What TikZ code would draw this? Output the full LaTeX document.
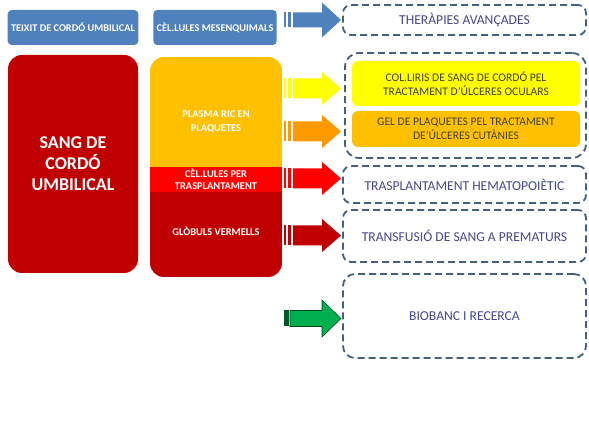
\documentclass[tikz,border=0pt]{standalone}
\usepackage{fontspec}
\setmainfont{Carlito}
\usetikzlibrary{positioning}
\definecolor{officeblue}{RGB}{79,129,189}
\definecolor{darkred}{RGB}{192,0,0}
\definecolor{plasma}{RGB}{255,192,0}
\definecolor{brightred}{RGB}{255,0,0}
\definecolor{lemon}{RGB}{255,255,0}
\definecolor{orangearrow}{RGB}{255,153,0}
\definecolor{greenarrow}{RGB}{0,176,80}
\definecolor{dashcol}{RGB}{68,96,126}
\definecolor{usetext}{RGB}{72,72,140}

\tikzset{
  bluebox/.style={fill=officeblue, rounded corners=4pt, text=white, font=\fontsize{10.3}{12}\selectfont\bfseries, align=center},
  dashbox/.style={draw=dashcol, line width=1.8pt, dash pattern=on 7pt off 4pt, rounded corners=8pt,
    text=usetext, font=\fontsize{13.6}{16}\selectfont, align=center},
  innerbox/.style={rounded corners=6pt, text=black!75, font=\fontsize{11.6}{13.5}\selectfont, align=center},
  celltext/.style={text=white, font=\fontsize{10.4}{14}\selectfont\bfseries, align=center}
}

\begin{document}
\begin{tikzpicture}[x=1pt,y=-1pt]
\useasboundingbox[fill=white] (0,0) rectangle (589,435);

% top row
\node[bluebox, minimum width=130pt, minimum height=35pt] (teixit) at (73,27.5) {TEIXIT DE CORDÓ UMBILICAL};
\node[bluebox, minimum width=120pt, minimum height=35pt] (mesenq) at (215,27.5) {CÈL.LULES MESENQUIMALS};

% sang de cordo
\node[fill=darkred, rounded corners=14pt, minimum width=130pt, minimum height=218pt, text=white,
  font=\fontsize{18}{21}\selectfont\bfseries, align=center] (sang) at (73,164) {SANG DE\\CORDÓ\\UMBILICAL};

% components column
\begin{scope}
\clip[rounded corners=14pt] (150,57) rectangle (282,277);
\fill[plasma] (150,57) rectangle (282,167);
\fill[brightred] (150,167) rectangle (282,192);
\fill[darkred] (150,192) rectangle (282,277);
\end{scope}
\node[celltext] (plasma) at (216,122) {PLASMA RIC EN\\PLAQUETES};
\node[celltext, font=\fontsize{10.4}{12}\selectfont\bfseries] (cells) at (216,179.5) {CÈL.LULES PER\\TRASPLANTAMENT};
\node[celltext] (globuls) at (216,231) {GLÒBULS VERMELLS};

% striped arrows
\foreach \yc/\col/\s/\h in {20/officeblue/7.5/17.5, 88.5/lemon/10/16.5, 131.5/orangearrow/10/16.5,
    178.5/brightred/10/16.5, 235.5/darkred/10/16.5} {
  \fill[\col] (284,\yc-\s) rectangle (286,\yc+\s);
  \fill[\col] (288,\yc-\s) rectangle (291,\yc+\s);
  \fill[\col] (293,\yc-\s) -- (322,\yc-\s) -- (322,\yc-\h) -- (341,\yc) -- (322,\yc+\h)
    -- (322,\yc+\s) -- (293,\yc+\s) -- cycle;
}
\fill[greenarrow!50!black] (284,310.5) rectangle (289,326.5);
\draw[fill=greenarrow, draw=greenarrow!40!black, line width=0.6pt] (290,310.5) -- (322,310.5) -- (322,300)
  -- (341,318.5) -- (322,337) -- (322,326.5) -- (290,326.5) -- cycle;

% uses
\node[dashbox, minimum width=243pt, minimum height=30pt] (terapies) at (464.5,20) {THERÀPIES AVANÇADES};
\node[dashbox, rounded corners=14pt, minimum width=241pt, minimum height=105pt] (plaquetes) at (465.5,105.5) {};
\node[innerbox, fill=lemon, minimum width=228pt, minimum height=45pt] (collirs) at (466,83.5)
  {COL.LIRIS DE SANG DE CORDÓ PEL\\TRACTAMENT D’ÚLCERES OCULARS};
\node[innerbox, fill=plasma, minimum width=228pt, minimum height=36pt] (gel) at (466,129)
  {GEL DE PLAQUETES PEL TRACTAMENT\\DE’ÚLCERES CUTÀNIES};
\node[dashbox, minimum width=243pt, minimum height=37pt] (trasplant) at (464.5,184.5) {TRASPLANTAMENT HEMATOPOIÈTIC};
\node[dashbox, minimum width=243pt, minimum height=52pt] (transfusio) at (464.5,236) {TRANSFUSIÓ DE SANG A PREMATURS};
\node[dashbox, rounded corners=12pt, minimum width=243pt, minimum height=84pt] (biobanc) at (464.5,316) {BIOBANC I RECERCA};
\end{tikzpicture}
\end{document}
